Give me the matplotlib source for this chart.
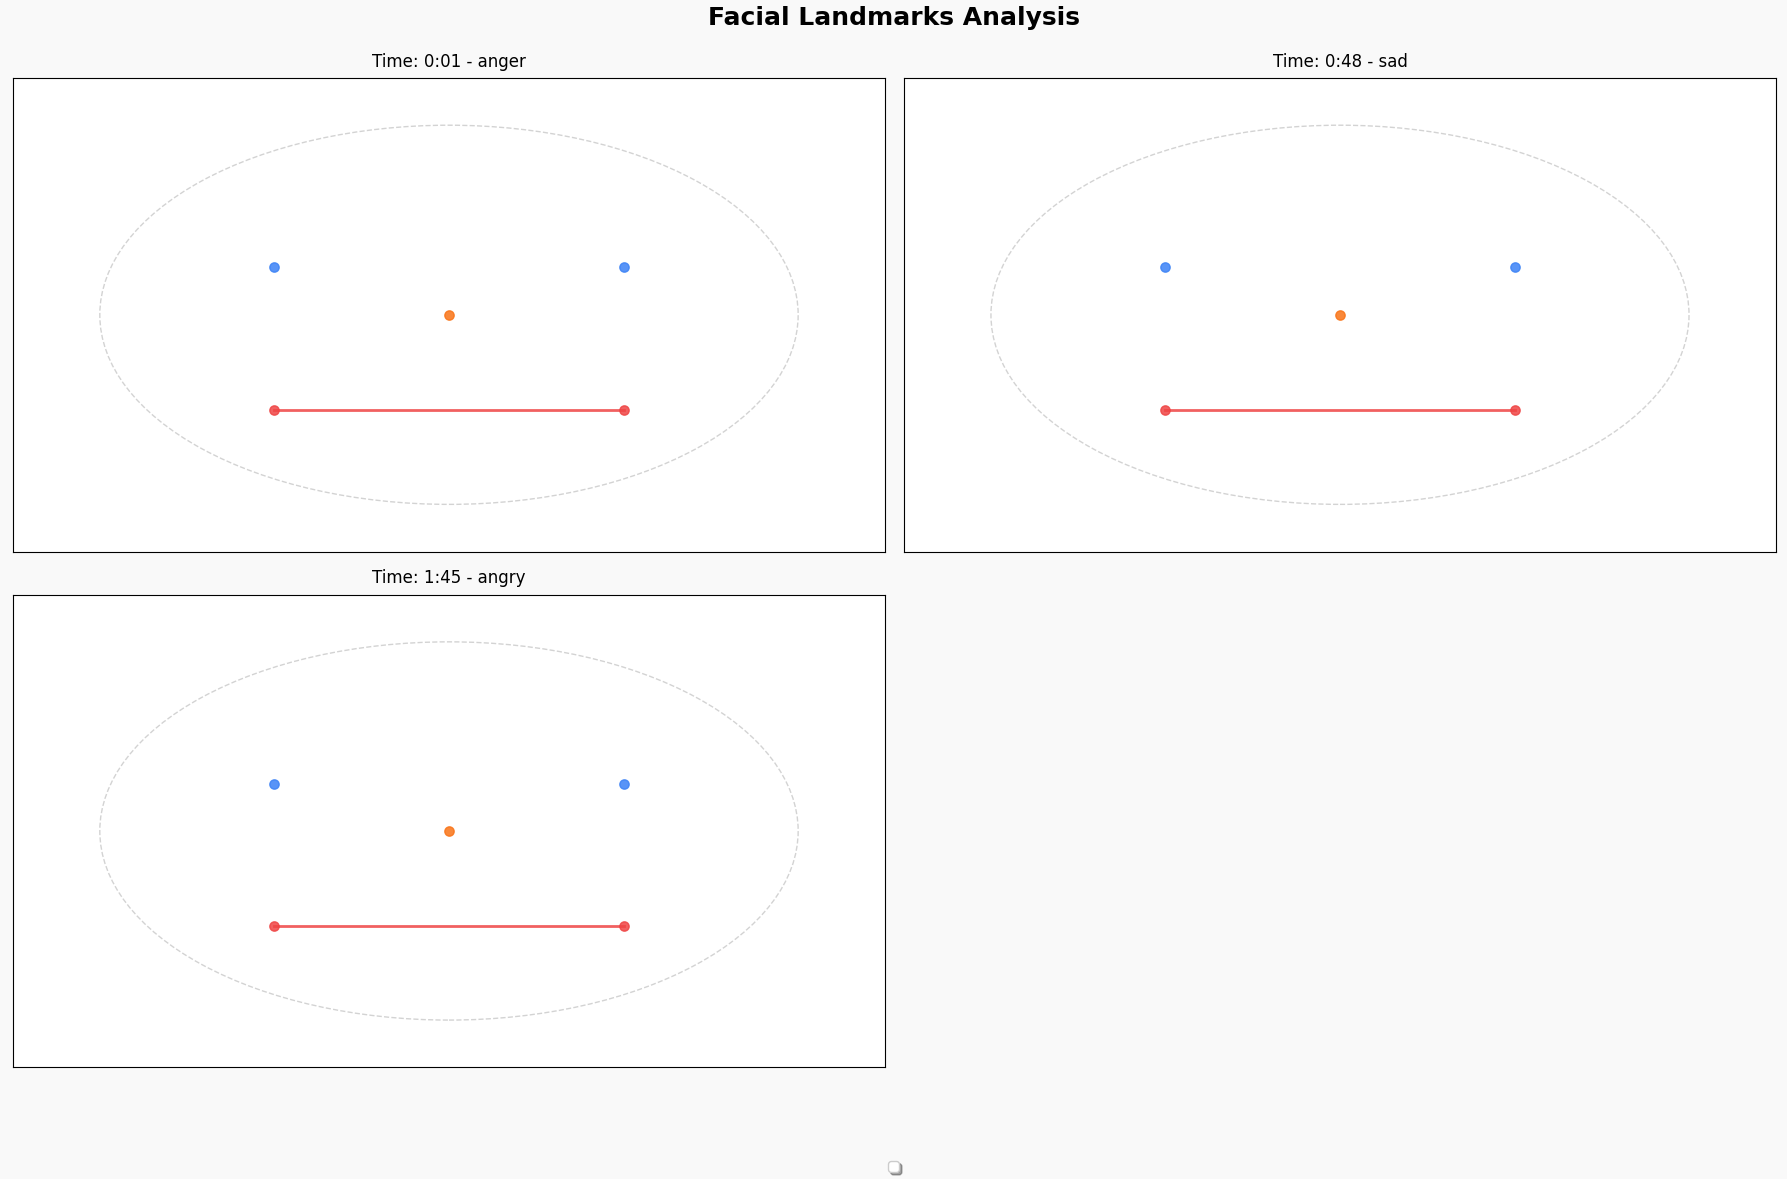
import matplotlib.pyplot as plt
from matplotlib.patches import Ellipse

titles = ["Time: 0:01 - anger", "Time: 0:48 - sad", "Time: 1:45 - angry"]
eyes_x = [0.3, 0.7]
eyes_y = [0.6, 0.6]
nose_x = [0.5]
nose_y = [0.5]
mouth_x = [0.3, 0.7]
mouth_y = [0.3, 0.3]

fig = plt.figure(figsize=(17.87, 11.79), dpi=100, facecolor="#f9f9f9")
boxes = [
    [0.007, 0.532, 0.4885, 0.402],
    [0.5057, 0.532, 0.4883, 0.402],
    [0.007, 0.0947, 0.4885, 0.401],
]
for title, box in zip(titles, boxes):
    ax = fig.add_axes(box)
    ax.add_patch(Ellipse((0.5, 0.5), 0.8, 0.8, fill=False, ls="--", color="lightgray", lw=1))
    ax.scatter(eyes_x, eyes_y, color="#3b82f6", s=45, alpha=0.85, zorder=3)
    ax.scatter(nose_x, nose_y, color="#f97316", s=45, alpha=0.85, zorder=3)
    ax.plot(mouth_x, mouth_y, color="#ef4444", lw=2, alpha=0.85)
    ax.scatter(mouth_x, mouth_y, color="#ef4444", s=45, alpha=0.85, zorder=3)
    ax.set_xlim(0, 1)
    ax.set_ylim(0, 1)
    ax.set_xticks([])
    ax.set_yticks([])
    ax.set_title(title, fontsize=12, pad=8)

fig.suptitle("Facial Landmarks Analysis", fontsize=18, fontweight="bold", y=0.995)
fig.legend(handles=[], loc="lower center", bbox_to_anchor=(0.5, 0.0), shadow=True)
fig.savefig("out.png", dpi=100, facecolor=fig.get_facecolor())
